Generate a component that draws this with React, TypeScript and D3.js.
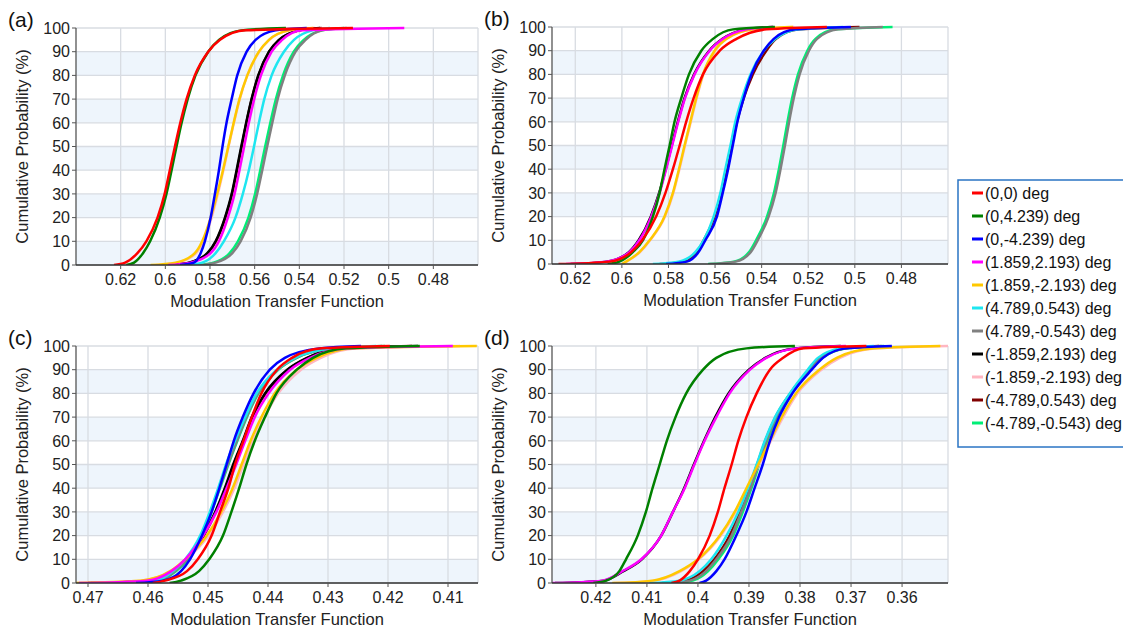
import React from 'react';
import * as d3 from 'd3';

// cumulative probability levels (%) at which each MTF curve was read
const probs = [0, 1, 5, 10, 20, 30, 40, 50, 60, 70, 80, 90, 95, 99, 100];

const seriesNames = [
  '(0,0) deg', '(0,4.239) deg', '(0,-4.239) deg', '(1.859,2.193) deg', '(1.859,-2.193) deg',
  '(4.789,0.543) deg', '(4.789,-0.543) deg', '(-1.859,2.193) deg', '(-1.859,-2.193) deg',
  '(-4.789,0.543) deg', '(-4.789,-0.543) deg',
];
const seriesColors = [
  '#ff0000', '#008000', '#0000ff', '#ff00ff', '#ffc800',
  '#1ee6f0', '#808080', '#000000', '#ffb6c1', '#800000', '#00ee76',
];

// MTF values per series (same order as seriesNames), one row per series
const mtfA = [
  [0.623, 0.618, 0.6125, 0.6085, 0.6035, 0.6003, 0.598, 0.5957, 0.5933, 0.5905, 0.5868, 0.5808, 0.5755, 0.564, 0.516],
  [0.6175, 0.614, 0.61, 0.6068, 0.6025, 0.5995, 0.5972, 0.595, 0.5927, 0.59, 0.5865, 0.5808, 0.576, 0.566, 0.546],
  [0.5934, 0.5872, 0.5842, 0.5823, 0.5797, 0.5778, 0.576, 0.5744, 0.5726, 0.5703, 0.5678, 0.5636, 0.5596, 0.5506, 0.5367],
  [0.5987, 0.5887, 0.5797, 0.576, 0.572, 0.569, 0.5668, 0.5647, 0.5626, 0.5602, 0.5572, 0.5524, 0.5477, 0.5387, 0.493],
  [0.6066, 0.5954, 0.5868, 0.5835, 0.5797, 0.5768, 0.5742, 0.5718, 0.5694, 0.5668, 0.5633, 0.5581, 0.5536, 0.5447, 0.5337],
  [0.5904, 0.5835, 0.5775, 0.5738, 0.5686, 0.5653, 0.5626, 0.5603, 0.5581, 0.5557, 0.5524, 0.5469, 0.5424, 0.5342, 0.5263],
  [0.5845, 0.5775, 0.57, 0.5663, 0.5618, 0.5589, 0.5566, 0.5544, 0.5521, 0.5497, 0.5465, 0.5417, 0.5372, 0.5297, 0.5188],
  [0.5979, 0.5894, 0.5812, 0.5775, 0.5733, 0.5703, 0.5681, 0.566, 0.5638, 0.5614, 0.5584, 0.5536, 0.5491, 0.5402, 0.5307],
  [0.604, 0.5945, 0.5862, 0.583, 0.5793, 0.5765, 0.574, 0.5717, 0.5693, 0.5667, 0.5633, 0.558, 0.5535, 0.5445, 0.533],
  [0.5975, 0.589, 0.581, 0.5773, 0.5731, 0.5701, 0.5679, 0.5658, 0.5637, 0.5613, 0.5583, 0.5535, 0.549, 0.54, 0.53],
  [0.5855, 0.5785, 0.5712, 0.5675, 0.5628, 0.5598, 0.5575, 0.5553, 0.553, 0.5505, 0.5473, 0.5425, 0.538, 0.53, 0.52],
];

const mtfB = [
  [0.6272, 0.6054, 0.596, 0.5913, 0.5853, 0.5813, 0.5781, 0.5752, 0.5724, 0.5692, 0.5652, 0.558, 0.5508, 0.5379, 0.512],
  [0.6061, 0.6011, 0.5953, 0.591, 0.5867, 0.5838, 0.5817, 0.5795, 0.5774, 0.5745, 0.5712, 0.5659, 0.5609, 0.5523, 0.5343],
  [0.581, 0.5721, 0.5671, 0.5642, 0.5592, 0.5567, 0.5544, 0.5524, 0.5504, 0.5477, 0.5444, 0.5391, 0.5348, 0.5255, 0.5017],
  [0.624, 0.6068, 0.5968, 0.5925, 0.5874, 0.5838, 0.581, 0.5784, 0.5758, 0.5729, 0.5688, 0.5623, 0.5566, 0.5465, 0.5351],
  [0.6, 0.5982, 0.5925, 0.5881, 0.5817, 0.5781, 0.5755, 0.5731, 0.5706, 0.5681, 0.5652, 0.5602, 0.5551, 0.5437, 0.5265],
  [0.5867, 0.5757, 0.5685, 0.5649, 0.5606, 0.5577, 0.5556, 0.5534, 0.5513, 0.5484, 0.5448, 0.5391, 0.5341, 0.524, 0.505],
  [0.5625, 0.5512, 0.5447, 0.5417, 0.537, 0.534, 0.5319, 0.53, 0.5282, 0.5262, 0.5237, 0.5197, 0.5162, 0.5072, 0.488],
  [0.622, 0.6065, 0.597, 0.5928, 0.5876, 0.584, 0.5812, 0.5786, 0.576, 0.5731, 0.569, 0.5625, 0.5568, 0.5467, 0.535],
  [0.5995, 0.598, 0.5922, 0.5879, 0.5815, 0.5779, 0.5753, 0.5729, 0.5704, 0.5679, 0.565, 0.56, 0.555, 0.5435, 0.526],
  [0.5838, 0.5735, 0.5678, 0.5649, 0.5602, 0.5574, 0.5549, 0.5528, 0.5506, 0.5477, 0.5438, 0.538, 0.5338, 0.524, 0.498],
  [0.563, 0.5519, 0.5454, 0.5424, 0.5377, 0.5347, 0.5326, 0.5307, 0.5289, 0.5269, 0.5244, 0.5204, 0.5169, 0.5082, 0.4838],
];

const mtfC = [
  [0.4592, 0.4572, 0.4535, 0.4517, 0.4494, 0.448, 0.4466, 0.4455, 0.4441, 0.4427, 0.4411, 0.4385, 0.436, 0.431, 0.4197],
  [0.4564, 0.4545, 0.4515, 0.4498, 0.4475, 0.4461, 0.4448, 0.4436, 0.4422, 0.4405, 0.4386, 0.4352, 0.4325, 0.427, 0.4147],
  [0.462, 0.4575, 0.4545, 0.453, 0.451, 0.4494, 0.4481, 0.4469, 0.4457, 0.4442, 0.4424, 0.4397, 0.4372, 0.4315, 0.4245],
  [0.4715, 0.4602, 0.4561, 0.4538, 0.4508, 0.4486, 0.4469, 0.4453, 0.4438, 0.4422, 0.4399, 0.4363, 0.433, 0.4269, 0.4092],
  [0.4725, 0.4613, 0.4563, 0.4538, 0.4502, 0.4478, 0.4459, 0.4444, 0.4429, 0.4411, 0.4389, 0.4352, 0.4319, 0.4258, 0.4052],
  [0.468, 0.4588, 0.4558, 0.4538, 0.4513, 0.4497, 0.4483, 0.447, 0.4455, 0.4438, 0.4419, 0.4385, 0.4355, 0.4292, 0.422],
  [0.467, 0.4585, 0.4555, 0.4535, 0.451, 0.4495, 0.4481, 0.4467, 0.4452, 0.4436, 0.4417, 0.4384, 0.4353, 0.429, 0.421],
  [0.47, 0.46, 0.456, 0.4537, 0.4508, 0.4488, 0.4472, 0.4458, 0.4442, 0.4427, 0.4405, 0.4368, 0.4335, 0.4275, 0.415],
  [0.472, 0.461, 0.4562, 0.4536, 0.4499, 0.4475, 0.4456, 0.4441, 0.4425, 0.4406, 0.4383, 0.4345, 0.4312, 0.4252, 0.408],
  [0.4695, 0.4598, 0.4558, 0.4536, 0.4507, 0.4487, 0.4471, 0.4457, 0.4441, 0.4426, 0.4404, 0.4367, 0.4334, 0.4274, 0.416],
  [0.4665, 0.4583, 0.4553, 0.4533, 0.4509, 0.4494, 0.448, 0.4466, 0.4451, 0.4435, 0.4416, 0.4383, 0.4352, 0.4289, 0.4205],
];

const mtfD = [
  [0.4052, 0.4036, 0.4016, 0.4, 0.3977, 0.3961, 0.3948, 0.3934, 0.3921, 0.3905, 0.3885, 0.3859, 0.3833, 0.3793, 0.367],
  [0.4205, 0.418, 0.4154, 0.4141, 0.4118, 0.4102, 0.4089, 0.4075, 0.4061, 0.4044, 0.4023, 0.399, 0.3964, 0.3905, 0.381],
  [0.3997, 0.3984, 0.3964, 0.3948, 0.3925, 0.3905, 0.3889, 0.3873, 0.3859, 0.3841, 0.3815, 0.3777, 0.3755, 0.371, 0.362],
  [0.4285, 0.4187, 0.4148, 0.4111, 0.4072, 0.4049, 0.4026, 0.4007, 0.3987, 0.3964, 0.3938, 0.3898, 0.3866, 0.3807, 0.371],
  [0.4168, 0.4089, 0.4036, 0.4, 0.3957, 0.3928, 0.3905, 0.3882, 0.3859, 0.3836, 0.3808, 0.3762, 0.3728, 0.3655, 0.3525],
  [0.4095, 0.4036, 0.3997, 0.3974, 0.3944, 0.3921, 0.3902, 0.3885, 0.3869, 0.3849, 0.382, 0.3785, 0.3765, 0.372, 0.3655],
  [0.4056, 0.4016, 0.3984, 0.3964, 0.3934, 0.3915, 0.3897, 0.3882, 0.3866, 0.3847, 0.3818, 0.378, 0.3758, 0.371, 0.364],
  [0.428, 0.4185, 0.4146, 0.411, 0.4072, 0.4049, 0.4027, 0.4008, 0.3988, 0.3966, 0.394, 0.39, 0.3868, 0.381, 0.372],
  [0.4165, 0.4085, 0.4033, 0.3998, 0.3955, 0.3926, 0.3903, 0.388, 0.3857, 0.3833, 0.3805, 0.3758, 0.3722, 0.3648, 0.3508],
  [0.407, 0.4025, 0.399, 0.3968, 0.3938, 0.3918, 0.39, 0.3884, 0.3868, 0.3848, 0.3819, 0.3782, 0.376, 0.3712, 0.3645],
  [0.4045, 0.401, 0.398, 0.396, 0.3931, 0.3912, 0.3895, 0.388, 0.3864, 0.3845, 0.3817, 0.3779, 0.3756, 0.3708, 0.3635],
];

const xTicksAB = [0.62, 0.6, 0.58, 0.56, 0.54, 0.52, 0.5, 0.48];
const xTicksC = [0.47, 0.46, 0.45, 0.44, 0.43, 0.42, 0.41];
const xTicksD = [0.42, 0.41, 0.4, 0.39, 0.38, 0.37, 0.36];
const yTicks = [0, 10, 20, 30, 40, 50, 60, 70, 80, 90, 100];

const FONT = '"Liberation Sans", Arial, sans-serif';

const panels = [
  { key: 'a', label: '(a)', data: mtfA, domain: [0.64, 0.46], ticks: xTicksAB, left: 76, top: 28, width: 402, height: 237 },
  { key: 'b', label: '(b)', data: mtfB, domain: [0.63, 0.46], ticks: xTicksAB, left: 552, top: 27, width: 396, height: 237 },
  { key: 'c', label: '(c)', data: mtfC, domain: [0.472, 0.405], ticks: xTicksC, left: 76, top: 346, width: 402, height: 237 },
  { key: 'd', label: '(d)', data: mtfD, domain: [0.4286, 0.351], ticks: xTicksD, left: 552, top: 346, width: 396, height: 237 },
];

function Panel({ p }: { p: (typeof panels)[number] }) {
  const x = d3.scaleLinear().domain(p.domain).range([0, p.width]);
  const y = d3.scaleLinear().domain([0, 100]).range([p.height, 0]);
  const line = d3.line<number>()
    .x(d => x(d))
    .y((d, i) => y(probs[i]))
    .curve(d3.curveMonotoneX);
  // first series drawn last so it sits on top
  const order = d3.range(seriesNames.length).reverse();

  return (
    <g transform={`translate(${p.left},${p.top})`}>
      <defs>
        <clipPath id={`clip-${p.key}`}>
          <rect x={0} y={-3} width={p.width} height={p.height + 3} />
        </clipPath>
      </defs>
      {yTicks.slice(0, -1).filter(t => t % 20 === 0).map(t => (
        <rect key={t} x={0} y={y(t + 10)} width={p.width} height={y(t) - y(t + 10)} fill="#eef5fc" />
      ))}
      {yTicks.map(t => (
        <line key={t} x1={0} x2={p.width} y1={y(t)} y2={y(t)} stroke="#d8dce2" strokeWidth={1.3} />
      ))}
      {p.ticks.map(t => (
        <line key={t} x1={x(t)} x2={x(t)} y1={0} y2={p.height} stroke="#d8dce2" strokeWidth={1.3} />
      ))}
      <line x1={p.width} x2={p.width} y1={0} y2={p.height} stroke="#d8dce2" strokeWidth={1.3} />
      <g clipPath={`url(#clip-${p.key})`}>
        {order.map(i => (
          <path key={i} d={line(p.data[i]) || ''} fill="none" stroke={seriesColors[i]} strokeWidth={2.5} />
        ))}
      </g>
      <line x1={0} x2={0} y1={0} y2={p.height} stroke="#555" strokeWidth={1.3} />
      <line x1={0} x2={p.width} y1={p.height} y2={p.height} stroke="#333" strokeWidth={1.3} />
      {yTicks.map(t => (
        <g key={t}>
          <line x1={-4} x2={0} y1={y(t)} y2={y(t)} stroke="#555" />
          <text x={-6} y={y(t)} dy="0.36em" textAnchor="end" fontSize={16} fill="#222">{t}</text>
        </g>
      ))}
      {p.ticks.map(t => (
        <g key={t}>
          <line x1={x(t)} x2={x(t)} y1={p.height} y2={p.height + 4} stroke="#555" />
          <text x={x(t)} y={p.height + 20} textAnchor="middle" fontSize={16} fill="#222">{String(t)}</text>
        </g>
      ))}
      <text x={p.width / 2} y={p.height + 42} textAnchor="middle" fontSize={16.5} fill="#222">
        Modulation Transfer Function
      </text>
      <text transform={`translate(${-48},${p.height / 2}) rotate(-90)`} textAnchor="middle" fontSize={16.5} fill="#222">
        Cumulative Probability (%)
      </text>
      <text x={-68} y={-1} fontSize={21} fill="#111">{p.label}</text>
    </g>
  );
}

function Legend() {
  const lx = 958;
  const ly = 180;
  const row = 23;
  return (
    <g>
      <rect x={lx} y={ly} width={172} height={267} fill="#fff" stroke="#2a74c4" strokeWidth={1.5} />
      {seriesNames.map((name, i) => (
        <g key={name} transform={`translate(${lx},${ly + 13 + i * row})`}>
          <line x1={14} x2={25} y1={0} y2={0} stroke={seriesColors[i]} strokeWidth={3} />
          <text x={27} y={0} dy="0.36em" fontSize={16} fill="#111">{name}</text>
        </g>
      ))}
    </g>
  );
}

export default function App() {
  return (
    <svg
      width={1123}
      height={630}
      style={{ position: 'absolute', left: 0, top: 0, background: '#fff', fontFamily: FONT }}
    >
      <rect width={1123} height={630} fill="#fff" />
      {panels.map(p => <Panel key={p.key} p={p} />)}
      <Legend />
    </svg>
  );
}
